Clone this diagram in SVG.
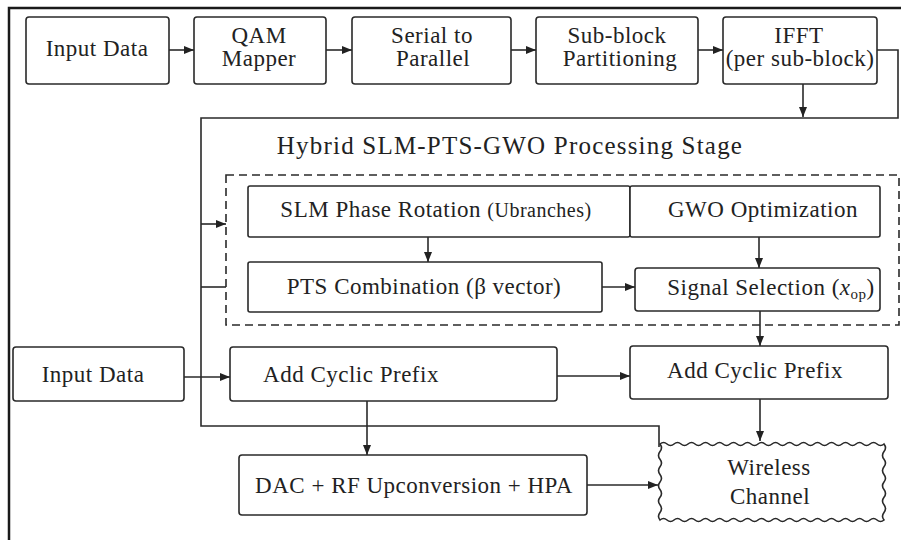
<svg xmlns="http://www.w3.org/2000/svg" width="901" height="540" viewBox="0 0 901 540">
<defs>
<marker id="ah" markerUnits="userSpaceOnUse" markerWidth="10" markerHeight="8" refX="10" refY="4" orient="auto">
<path d="M0,0 L10,4 L0,8 z" fill="#222"/>
</marker>
<style>
.box{fill:#fff;stroke:#2a2a2a;stroke-width:1.6}
.t{font-size:23px;letter-spacing:0.5px;fill:#222;text-anchor:middle}
.title{font-size:25px;letter-spacing:1.2px;fill:#222;text-anchor:middle}
.ln{fill:none;stroke:#2a2a2a;stroke-width:1.6}
.ar{fill:none;stroke:#2a2a2a;stroke-width:1.6;marker-end:url(#ah)}
</style>
</defs>
<rect x="0" y="0" width="901" height="540" fill="#fff"/>
<rect x="9" y="8" width="900" height="545" fill="none" stroke="#1a1a1a" stroke-width="2.5"/>

<g id="connectors">
<path class="ln" d="M877,50 H898 V118 H201 V426 H659 V447"/>
<line class="ar" x1="169" y1="50" x2="194" y2="50"/>
<line class="ar" x1="326" y1="50" x2="352" y2="50"/>
<line class="ar" x1="511" y1="50" x2="536" y2="50"/>
<line class="ar" x1="698" y1="50" x2="723" y2="50"/>
<line class="ar" x1="803" y1="83" x2="803" y2="117"/>
<line class="ar" x1="201" y1="224" x2="226" y2="224"/>
<line class="ln" x1="201" y1="287" x2="226" y2="287"/>
<line class="ar" x1="633" y1="209" x2="660" y2="209"/>
<line class="ar" x1="428" y1="237" x2="428" y2="262"/>
<line class="ar" x1="759" y1="237" x2="759" y2="268"/>
<line class="ar" x1="602" y1="287" x2="635" y2="287"/>
<line class="ar" x1="760" y1="311" x2="760" y2="346"/>
<line class="ar" x1="184" y1="377" x2="230" y2="377"/>
<line class="ar" x1="557" y1="376" x2="630" y2="376"/>
<line class="ar" x1="367" y1="401" x2="367" y2="455"/>
<line class="ar" x1="587" y1="485" x2="658" y2="485"/>
<line class="ar" x1="760" y1="399" x2="760" y2="441"/>
</g>

<g id="stage">
<text class="title" x="510" y="154" font-family="Liberation Serif">Hybrid SLM-PTS-GWO Processing Stage</text>
<rect x="226" y="175" width="673" height="150" fill="none" stroke="#2a2a2a" stroke-width="1.6" stroke-dasharray="8,5"/>
</g>

<g id="input-data-top">
<rect class="box" x="26" y="17" width="143" height="67" rx="3"/>
<text class="t" x="97" y="56" font-family="Liberation Serif">Input Data</text>
</g>
<g id="qam">
<rect class="box" x="194" y="17" width="132" height="67" rx="3"/>
<text class="t" x="259" y="43" font-family="Liberation Serif">QAM</text>
<text class="t" x="259" y="66" font-family="Liberation Serif">Mapper</text>
</g>
<g id="s2p">
<rect class="box" x="352" y="17" width="159" height="67" rx="3"/>
<text class="t" x="432" y="43" font-family="Liberation Serif">Serial to</text>
<text class="t" x="433" y="66" font-family="Liberation Serif">Parallel</text>
</g>
<g id="subblock">
<rect class="box" x="536" y="17" width="162" height="67" rx="3"/>
<text class="t" x="617" y="43" font-family="Liberation Serif">Sub-block</text>
<text class="t" x="620" y="66" font-family="Liberation Serif">Partitioning</text>
</g>
<g id="ifft">
<rect class="box" x="723" y="17" width="154" height="67" rx="3"/>
<text class="t" x="799" y="43" font-family="Liberation Serif">IFFT</text>
<text class="t" x="800" y="66" font-family="Liberation Serif">(per sub-block)</text>
</g>

<g id="slm">
<rect class="box" x="248" y="186" width="382" height="51" rx="2"/>
<text class="t" x="436" y="217" font-family="Liberation Serif">SLM Phase Rotation <tspan font-size="20">(Ubranches)</tspan></text>
</g>
<g id="gwo">
<rect class="box" x="630" y="186" width="250" height="51" rx="2"/>
<text class="t" x="763" y="217" font-family="Liberation Serif">GWO Optimization</text>
</g>
<g id="pts">
<rect class="box" x="248" y="262" width="354" height="50" rx="2"/>
<text class="t" x="424" y="294" font-family="Liberation Serif">PTS Combination (β vector)</text>
</g>
<g id="selection">
<rect class="box" x="635" y="268" width="245" height="43" rx="3"/>
<text class="t" x="771" y="295" font-family="Liberation Serif">Signal Selection (<tspan font-style="italic">x</tspan><tspan font-size="15" dy="4">op</tspan><tspan dy="-4">)</tspan></text>
</g>

<g id="input-data-bottom">
<rect class="box" x="13" y="347" width="171" height="54" rx="3"/>
<text class="t" x="93" y="382" font-family="Liberation Serif">Input Data</text>
</g>
<g id="acp-left">
<rect class="box" x="230" y="347" width="327" height="54" rx="3"/>
<text class="t" x="351" y="382" font-family="Liberation Serif">Add Cyclic Prefix</text>
</g>
<g id="acp-right">
<rect class="box" x="630" y="346" width="258" height="53" rx="3"/>
<text class="t" x="755" y="378" font-family="Liberation Serif">Add Cyclic Prefix</text>
</g>
<g id="dac">
<rect class="box" x="239" y="455" width="348" height="60" rx="3"/>
<text class="t" x="414" y="493" font-family="Liberation Serif">DAC + RF Upconversion + HPA</text>
</g>
<g id="wireless">
<path class="box" d="M660,444 q3.5,-3 7,0 t7,0 t7,0 t7,0 t7,0 t7,0 t7,0 t7,0 t7,0 t7,0 t7,0 t7,0 t7,0 t7,0 t7,0 t7,0 t7,0 t7,0 t7,0 t7,0 t7,0 t7,0 t7,0 t7,0 t7,0 t7,0 t7,0 t7,0 t7,0 t7,0 t7,0 t7,0 q3,3.8 0,7.6 t0,7.6 t0,7.6 t0,7.6 t0,7.6 t0,7.6 t0,7.6 t0,7.6 t0,7.6 t0,7.6 q-3.5,3 -7,0 t-7,0 t-7,0 t-7,0 t-7,0 t-7,0 t-7,0 t-7,0 t-7,0 t-7,0 t-7,0 t-7,0 t-7,0 t-7,0 t-7,0 t-7,0 t-7,0 t-7,0 t-7,0 t-7,0 t-7,0 t-7,0 t-7,0 t-7,0 t-7,0 t-7,0 t-7,0 t-7,0 t-7,0 t-7,0 t-7,0 t-7,0 q-3,-3.8 0,-7.6 t0,-7.6 t0,-7.6 t0,-7.6 t0,-7.6 t0,-7.6 t0,-7.6 t0,-7.6 t0,-7.6 t0,-7.6 z"/>
<text class="t" x="769" y="475" font-family="Liberation Serif">Wireless</text>
<text class="t" x="770" y="504" font-family="Liberation Serif">Channel</text>
</g>
</svg>
